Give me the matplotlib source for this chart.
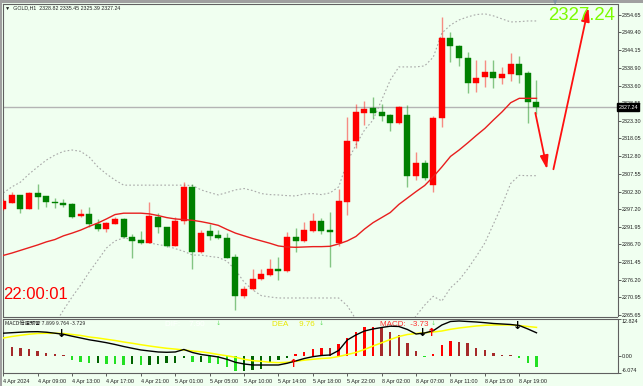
import matplotlib
matplotlib.use("Agg")
import matplotlib.pyplot as plt
import matplotlib.transforms as mtransforms
from matplotlib.patches import Rectangle

plt.rcParams['font.family'] = ['Liberation Sans', 'DejaVu Sans']

# ---- data (GOLD H1) ----
symbol = "GOLD,H1"
opens = [2297.0, 2299.0, 2301.3, 2297.1, 2302.0, 2301.0, 2299.3, 2299.0, 2298.5, 2295.0,
         2295.6, 2292.7, 2291.2, 2292.8, 2294.2, 2288.9, 2288.0, 2287.2, 2294.9, 2291.7,
         2286.3, 2293.7, 2303.7, 2284.3, 2290.6, 2289.4, 2288.5, 2282.8, 2271.4, 2273.4,
         2276.3, 2277.6, 2279.5, 2278.8, 2288.8, 2287.7, 2290.6, 2293.7, 2290.9, 2287.2,
         2299.3, 2317.3, 2325.7, 2327.0, 2325.9, 2325.0, 2322.5, 2325.0, 2307.0, 2310.8,
         2304.2, 2324.0, 2347.9, 2345.4, 2341.9, 2334.3, 2336.1, 2337.6, 2335.9, 2337.1,
         2340.0, 2337.3, 2328.82]
highs = [2300.0, 2302.1, 2301.4, 2302.3, 2304.6, 2301.1, 2300.3, 2300.1, 2298.9, 2297.1,
         2297.8, 2294.1, 2293.2, 2294.9, 2294.5, 2289.7, 2290.6, 2299.2, 2295.9, 2291.9,
         2294.7, 2305.2, 2304.6, 2290.9, 2292.7, 2290.9, 2289.9, 2283.8, 2274.4, 2279.3,
         2279.4, 2282.2, 2282.8, 2290.3, 2291.4, 2293.3, 2295.9, 2294.6, 2296.2, 2303.0,
         2324.5, 2328.2, 2329.2, 2330.4, 2328.2, 2325.2, 2327.6, 2327.9, 2314.1, 2311.6,
         2324.7, 2354.1, 2349.6, 2345.6, 2343.5, 2341.2, 2341.2, 2341.2, 2339.1, 2343.4,
         2342.4, 2338.0, 2335.45]
lows = [2296.8, 2298.9, 2296.0, 2297.0, 2297.1, 2297.6, 2297.3, 2297.8, 2294.6, 2294.8,
        2291.7, 2290.7, 2290.4, 2292.6, 2288.6, 2282.5, 2286.8, 2287.0, 2289.9, 2286.0,
        2286.1, 2292.7, 2279.4, 2284.0, 2288.0, 2288.3, 2282.5, 2267.2, 2270.7, 2273.2,
        2276.1, 2277.4, 2276.1, 2278.6, 2284.5, 2287.5, 2290.4, 2289.7, 2280.0, 2286.2,
        2295.4, 2315.1, 2322.0, 2324.2, 2323.3, 2320.2, 2322.3, 2303.6, 2305.7, 2305.7,
        2302.3, 2321.3, 2340.7, 2339.6, 2331.6, 2331.7, 2333.2, 2333.1, 2334.1, 2335.1,
        2334.5, 2322.5, 2325.39]
closes = [2299.6, 2301.3, 2297.1, 2302.0, 2300.8, 2299.2, 2298.8, 2298.4, 2294.9, 2295.7,
          2292.7, 2291.2, 2292.9, 2294.2, 2288.8, 2287.8, 2287.2, 2295.0, 2291.7, 2286.3,
          2293.7, 2303.7, 2284.5, 2289.9, 2289.2, 2288.5, 2282.7, 2271.5, 2273.4, 2276.4,
          2277.8, 2279.5, 2278.9, 2288.8, 2287.7, 2290.9, 2293.7, 2290.7, 2290.4, 2299.4,
          2317.3, 2325.9, 2326.7, 2325.7, 2324.8, 2322.7, 2327.2, 2307.0, 2310.8, 2306.2,
          2324.0, 2347.9, 2345.4, 2341.9, 2334.3, 2336.0, 2337.7, 2336.0, 2337.2, 2340.0,
          2336.9, 2328.7, 2327.24]

ma_line = [2283.4, 2284.1, 2284.9, 2285.7, 2286.5, 2287.4, 2288.1, 2289.2, 2290.0, 2290.9,
           2292.0, 2293.0, 2294.2, 2295.5, 2295.9, 2295.9, 2295.9, 2295.7, 2295.2, 2294.6,
           2294.2, 2294.0, 2293.8, 2293.4, 2292.9, 2292.3, 2291.1, 2290.0, 2289.2, 2288.4,
           2287.7, 2287.0, 2286.2, 2285.9, 2285.8, 2285.9, 2286.0, 2286.0, 2286.1, 2286.8,
           2287.7, 2289.0, 2291.2, 2293.1, 2294.6, 2296.1, 2298.5, 2300.4, 2302.3, 2304.1,
           2306.7, 2309.6, 2312.7, 2314.6, 2316.7, 2318.9, 2321.0, 2323.5, 2325.9, 2328.6,
           2329.9, 2329.9, 2329.9]
bb_up = [2301.9, 2303.7, 2305.1, 2307.5, 2309.6, 2311.6, 2313.1, 2314.2, 2314.6, 2314.2,
         2312.5, 2309.6, 2307.5, 2305.7, 2304.2, 2304.2, 2304.2, 2304.2, 2304.2, 2304.2,
         2304.2, 2304.2, 2304.1, 2302.8, 2302.0, 2301.3, 2302.0, 2302.8, 2303.2, 2302.6,
         2301.7, 2301.4, 2301.3, 2301.1, 2301.0, 2301.6, 2301.7, 2301.4, 2301.9, 2303.7,
         2311.1, 2316.1, 2320.5, 2323.5, 2329.4, 2335.3, 2339.2, 2339.2, 2339.2, 2339.5,
         2342.1, 2349.2, 2351.6, 2353.1, 2354.0, 2354.7, 2354.9, 2354.3, 2353.4, 2352.5,
         2352.6, 2352.8, 2352.8]
bb_low = [2257.0, 2257.5, 2258.0, 2259.0, 2260.0, 2261.8, 2263.2, 2267.2, 2271.1, 2274.6,
          2278.5, 2282.0, 2285.6, 2287.7, 2288.6, 2288.1, 2287.7, 2287.1, 2286.6, 2286.2,
          2285.4, 2284.6, 2283.5, 2283.5, 2283.1, 2282.8, 2281.7, 2279.1, 2275.5, 2273.2,
          2271.5, 2271.1, 2270.8, 2270.8, 2270.8, 2270.8, 2270.8, 2270.8, 2270.8, 2270.8,
          2268.5, 2264.5, 2262.0, 2261.5, 2260.0, 2258.5, 2258.5, 2261.6, 2265.5, 2268.7,
          2271.3, 2269.9, 2273.8, 2276.1, 2279.4, 2283.1, 2287.1, 2292.7, 2298.3, 2304.7,
          2307.1, 2307.0, 2307.0]

dif = [7.76, 7.93, 8.10, 8.24, 8.28, 8.10, 7.76, 7.38, 6.72, 6.10,
       5.48, 5.00, 4.48, 3.86, 3.17, 2.55, 1.97, 1.62, 1.28, 1.17,
       1.28, 2.14, 1.10, 0.41, 0.00, -0.45, -1.24, -2.28, -2.86, -3.21,
       -3.21, -3.21, -3.21, -2.62, -1.83, -0.97, -0.34, 0.07, 0.24, 1.79,
       5.41, 7.14, 8.52, 9.21, 9.72, 10.17, 10.07, 9.03, 7.48, 7.83,
       8.62, 10.59, 11.79, 11.97, 11.79, 11.62, 11.38, 11.10, 10.93, 10.76,
       10.41, 9.21, 7.899]
dea = [6.10, 6.62, 7.03, 7.41, 7.66, 7.72, 7.72, 7.66, 7.31, 6.97,
       6.45, 6.10, 5.66, 5.24, 4.72, 4.28, 3.79, 3.34, 2.93, 2.55,
       2.28, 1.97, 1.62, 1.34, 0.93, 0.41, -0.03, -0.55, -1.24, -1.72,
       -1.93, -2.28, -2.41, -2.28, -1.93, -1.55, -1.24, -0.97, -0.79, -0.28,
       0.41, 1.10, 2.14, 3.34, 4.45, 5.59, 6.62, 7.31, 7.66, 7.90,
       8.17, 8.52, 9.10, 9.55, 9.90, 10.24, 10.48, 10.59, 10.59, 10.59,
       10.38, 10.07, 9.764]
hist = [2.87, 2.87, 2.53, 2.18, 1.72, 1.03, 0.46, 0.15, -1.49, -2.30,
        -2.64, -2.64, -2.87, -2.99, -3.22, -2.99, -3.22, -3.22, -2.99, -2.64,
        -2.64, -0.69, -2.07, -2.07, -2.64, -2.99, -4.02, -5.29, -5.29, -4.94,
        -4.70, -2.64, -1.49, -0.92, 0.46, 1.38, 2.30, 2.76, 2.64, 3.90,
        6.20, 8.27, 9.80, 9.97, 9.40, 8.27, 7.10, 4.25, 1.72, -0.57,
        0.46, 3.68, 4.94, 4.70, 4.25, 2.53, 1.95, 1.03, 0.35, 0.10,
        -0.92, -2.64, -3.729]

time_labels = ["4 Apr 2024", "4 Apr 09:00", "4 Apr 13:00", "4 Apr 17:00", "4 Apr 21:00",
               "5 Apr 01:00", "5 Apr 05:00", "5 Apr 10:00", "5 Apr 14:00", "5 Apr 18:00",
               "5 Apr 22:00", "8 Apr 02:00", "8 Apr 07:00", "8 Apr 11:00", "8 Apr 15:00",
               "8 Apr 19:00"]
price_ticks = [2354.65, 2349.40, 2344.15, 2338.90, 2333.60, 2328.55, 2323.30, 2318.05,
               2312.80, 2307.55, 2302.30, 2297.20, 2291.95, 2286.70, 2281.45, 2276.20,
               2270.95, 2265.65]
macd_ticks = [12.824, 0.0, -6.074]
sell_bars = [7, 49, 60]
buy_bars = [34, 50]
alert_bars = [25, 37, 50]
countdown = "22:00:01"
last_price = 2327.24
path_down = ([61.8, 63.3], [2326.4, 2308.1])
path_up = ([63.9, 68.1], [2308.1, 2357.5])

BG = '#F0FFF0'
W, H = 643, 386
n = len(closes)
xs = list(range(n))

fig = plt.figure(figsize=(W / 100, H / 100), dpi=100, facecolor=BG)
ax = fig.add_axes([2.5 / W, 1 - 316.5 / H, 615 / W, 312.5 / H], facecolor=BG)
ax2 = fig.add_axes([2.5 / W, 1 - 373.3 / H, 615 / W, 54.8 / H], facecolor=BG)

# ---- price panel ----
ax.axhline(last_price, color='#B4B4B4', lw=1, zorder=1)
ax.plot(xs, bb_up, color='#A8A8A8', lw=0.8, ls=(0, (1.5, 2)), zorder=2)
ax.plot(xs, bb_low, color='#A8A8A8', lw=0.8, ls=(0, (1.5, 2)), zorder=2)
for i in xs:
    o, h, l, c = opens[i], highs[i], lows[i], closes[i]
    col = '#FF0000' if c >= o else '#008000'
    ax.vlines(i, l, h, color=col, lw=1, alpha=0.45, zorder=3)
    ax.add_patch(Rectangle((i - 0.35, min(o, c)), 0.7, max(abs(c - o), 0.25),
                           facecolor=col, edgecolor=col, lw=0.3, zorder=4))
ax.plot(xs, ma_line, color='#E81E1E', lw=1.0, zorder=5)

for (px, py) in (path_down, path_up):
    ax.annotate('', xy=(px[1], py[1]), xytext=(px[0], py[0]),
                arrowprops=dict(arrowstyle='-|>,head_width=0.25,head_length=0.8',
                                color='#FF1010', lw=1.3), zorder=6)

ax.set_xlim(-0.09, 71.42)
ax.set_ylim(2265.32, 2357.82)
ax.set_xticks([])
ax.yaxis.tick_right()
ax.set_yticks(price_ticks)
ax.set_yticklabels([f"{v:.2f}" for v in price_ticks])
ax.tick_params(axis='y', direction='out', length=2, width=0.5, pad=1,
               labelsize=3.9, colors='#202020')
for s in ax.spines.values():
    s.set_color('#606060')
    s.set_linewidth(0.8)

tr = mtransforms.blended_transform_factory(ax.transAxes, ax.transData)
ax.text(1.0015, last_price, f"{last_price:.2f}", transform=tr, va='center', ha='left',
        fontsize=3.9, color='white', zorder=10,
        bbox=dict(boxstyle='square,pad=0.25', fc='black', ec='black'))

# ---- MACD panel ----
hcols = []
for i, v in enumerate(hist):
    prev = hist[i - 1] if i > 0 else v
    if v >= 0:
        hcols.append('#FF0000' if v > prev else '#A52A2A')
    else:
        hcols.append('#22E022' if v < prev else '#006400')
ax2.bar(xs, hist, width=0.28, color=hcols, zorder=2)
ax2.plot(xs, dea, color='#FFFF00', lw=1.1, zorder=3)
ax2.plot(xs, dif, color='black', lw=1.0, zorder=4)
for b in sell_bars:
    ax2.text(b - 0.2, dif[b], '↓', color='black', fontsize=8, fontweight='bold',
             ha='center', va='center', family='DejaVu Sans', zorder=6)
for b in buy_bars:
    ax2.text(b - 0.2, dif[b] - 0.9, '↑', color='#FF0000', fontsize=8, fontweight='bold',
             ha='center', va='center', family='DejaVu Sans', zorder=6)
tr2 = mtransforms.blended_transform_factory(ax2.transData, ax2.transAxes)
for b in alert_bars:
    ax2.text(b, 0.95, '↓', color='#66DD66', fontsize=4.5, ha='center', va='top',
             family='DejaVu Sans', transform=tr2)

ax2.text(0.004, 0.95, f"MACD倍速预警 {dif[-1]:.3f} {dea[-1]:.3f} {hist[-1]:.3f}",
         transform=ax2.transAxes, fontsize=3.8, va='top', ha='left', color='#202020',
         family=['Noto Sans CJK SC', 'DejaVu Sans'])
ax2.text(163 / 615, 0.95, f"DIF:    {dif[-1]:.2f}", transform=ax2.transAxes,
         fontsize=5.8, va='top', color='white')
ax2.text(270 / 615, 0.95, f"DEA     {dea[-1]:.2f}", transform=ax2.transAxes,
         fontsize=5.8, va='top', color='#E8E800')
ax2.text(377 / 615, 0.95, f"MACD:  {hist[-1]:.2f}", transform=ax2.transAxes,
         fontsize=5.8, va='top', color='#FF3030')

ax2.set_xlim(-0.09, 71.42)
ax2.set_ylim(-6.074, 12.824)
ax2.yaxis.tick_right()
ax2.set_yticks(macd_ticks)
ax2.set_yticklabels(["12.824", "0.00", "-6.074"])
ax2.tick_params(axis='y', direction='out', length=2, width=0.5, pad=1,
                labelsize=3.9, colors='#202020')
labs = ax2.get_yticklabels()
labs[0].set_va('top')
labs[2].set_va('bottom')
ax2.set_xticks(xs[::4])
ax2.set_xticklabels(time_labels, ha='left')
ax2.tick_params(axis='x', direction='out', length=2.5, width=0.5, pad=1.5,
                labelsize=3.9, colors='#202020')
for s in ax2.spines.values():
    s.set_color('#606060')
    s.set_linewidth(0.8)

# ---- overlays ----
fig.text(5 / W, 1 - 7.5 / H, f"▼  {symbol}  {opens[-1]:.2f} {highs[-1]:.2f} "
         f"{lows[-1]:.2f} {closes[-1]:.2f}", fontsize=3.8, va='center', ha='left',
         color='#202020', family=['Liberation Sans', 'DejaVu Sans'])
fig.text(615 / W, 1 - 15 / H, f"{last_price:.2f}", fontsize=13.4, color='#7CFC00',
         ha='right', va='center')
fig.text(3.5 / W, 1 - 294.5 / H, countdown, fontsize=12, color='#FF0000',
         ha='left', va='center')
fig.text(555 / W, 1 - 2.5 / H, '▼', fontsize=4, color='#8090A0', ha='center',
         va='center', family='DejaVu Sans')

fig.patches.append(Rectangle((0, 0), 2 / W, 1, transform=fig.transFigure,
                             facecolor='#A0A0A0', edgecolor='none'))
fig.patches.append(Rectangle((0, 1 - 3 / H), 1, 3 / H, transform=fig.transFigure,
                             facecolor='#A0A0A0', edgecolor='none'))

fig.savefig('out.png', dpi=100, facecolor=BG)
